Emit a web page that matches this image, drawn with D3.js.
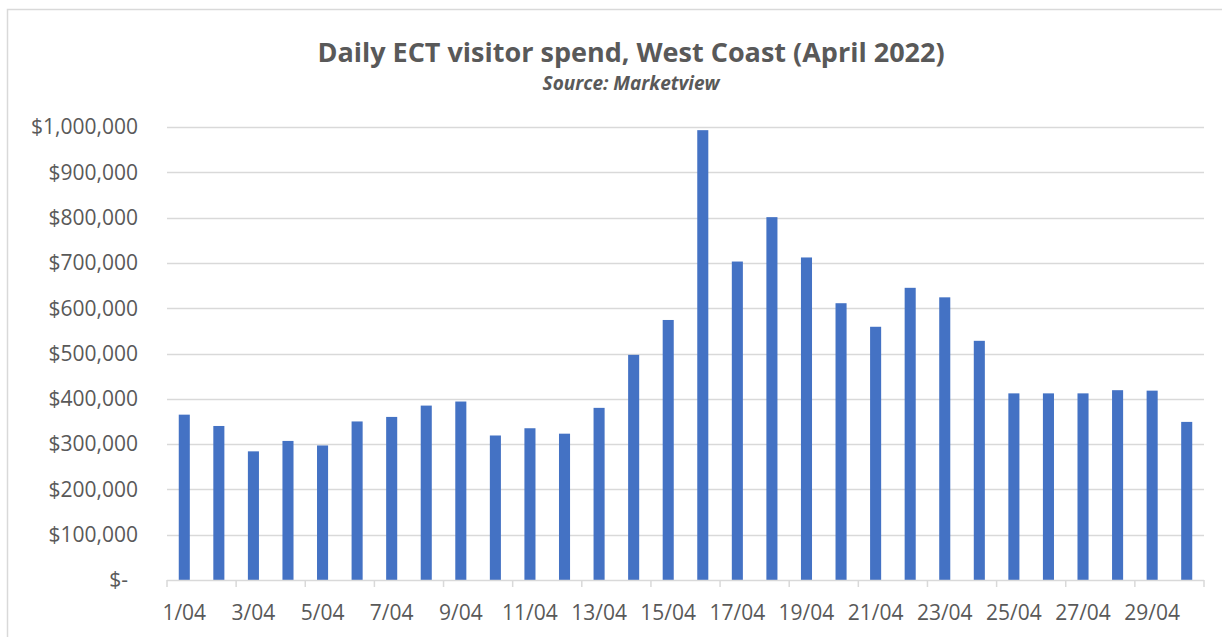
<!DOCTYPE html>
<html>
<head>
<meta charset="utf-8">
<script src="https://cdn.jsdelivr.net/npm/d3@7"></script>
<style>
  body { margin: 0; background: #fff; }
  text { font-family: "Open Sans", sans-serif; fill: #595959; }
</style>
</head>
<body>
<svg width="1222" height="637"></svg>
<script>
// data
const days = d3.range(1, 31).map(d => d + "/04");
const spend = [365000, 340000, 284000, 307000, 297000, 350000, 360000, 385000, 394000, 319000,
               335000, 323000, 380000, 497000, 574000, 993000, 703000, 801000, 712000, 611000,
               559000, 645000, 624000, 528000, 412000, 412000, 412000, 419000, 418000, 349000];
const yTicks = [0, 100000, 200000, 300000, 400000, 500000, 600000, 700000, 800000, 900000, 1000000];

const svg = d3.select("svg");
const margin = { top: 127, right: 18, bottom: 57, left: 167 };
const width = 1222, height = 637;

// chart frame (Excel style border running off the page)
svg.append("rect")
  .attr("x", 7.5).attr("y", 9.5)
  .attr("width", 1300).attr("height", 700)
  .attr("fill", "none").attr("stroke", "#d9d9d9").attr("stroke-width", 1.5);

const x = d3.scaleBand()
  .domain(days)
  .range([margin.left, width - margin.right])
  .paddingInner(0.68)
  .paddingOuter(0.34);

const y = d3.scaleLinear()
  .domain([0, 1000000])
  .range([height - margin.bottom, margin.top]);

// gridlines
svg.append("g")
  .selectAll("line")
  .data(yTicks.slice(1))
  .join("line")
  .attr("x1", margin.left).attr("x2", width - margin.right)
  .attr("y1", d => Math.round(y(d)) + 0.5).attr("y2", d => Math.round(y(d)) + 0.5)
  .attr("stroke", "#d9d9d9").attr("stroke-width", 1.5);

// bars
svg.append("g")
  .selectAll("rect")
  .data(spend)
  .join("rect")
  .attr("x", (d, i) => x(days[i]))
  .attr("width", x.bandwidth())
  .attr("y", d => y(d))
  .attr("height", d => y(0) - y(d))
  .attr("fill", "#4472c4");

// y axis labels
const fmt = d3.format(",");
svg.append("g")
  .selectAll("text")
  .data(yTicks)
  .join("text")
  .attr("x", d => d === 0 ? 128 : 138)
  .attr("y", d => y(d))
  .attr("dy", "0.35em")
  .attr("text-anchor", "end")
  .style("font-size", "21px")
  .text(d => d === 0 ? "$-" : "$" + fmt(d));

// x axis: line, ticks every 2 days, labels on odd days
const step = x.step();
const xAxis = svg.append("g");
xAxis.append("line")
  .attr("x1", margin.left).attr("x2", width - margin.right)
  .attr("y1", y(0) + 0.5).attr("y2", y(0) + 0.5)
  .attr("stroke", "#d9d9d9").attr("stroke-width", 1.5);

const tickDays = days.filter((d, i) => i % 2 === 0);
xAxis.selectAll(".tick")
  .data(tickDays.concat(["end"]))
  .join("line")
  .attr("class", "tick")
  .attr("x1", d => d === "end" ? width - margin.right : x(d) - x.paddingOuter() * step)
  .attr("x2", d => d === "end" ? width - margin.right : x(d) - x.paddingOuter() * step)
  .attr("y1", y(0)).attr("y2", y(0) + 7)
  .attr("stroke", "#d9d9d9").attr("stroke-width", 1.5);

xAxis.selectAll(".lbl")
  .data(tickDays)
  .join("text")
  .attr("class", "lbl")
  .attr("x", d => x(d) + x.bandwidth() / 2)
  .attr("y", 620)
  .attr("text-anchor", "middle")
  .style("font-size", "21px")
  .text(d => d);

// titles
svg.append("text")
  .attr("x", 631).attr("y", 62)
  .attr("text-anchor", "middle")
  .style("font-size", "27px").style("font-weight", "bold")
  .text("Daily ECT visitor spend, West Coast (April 2022)");

svg.append("text")
  .attr("x", 631).attr("y", 90)
  .attr("text-anchor", "middle")
  .style("font-size", "19px").style("font-weight", "bold").style("font-style", "italic")
  .text("Source: Marketview");
</script>
</body>
</html>
